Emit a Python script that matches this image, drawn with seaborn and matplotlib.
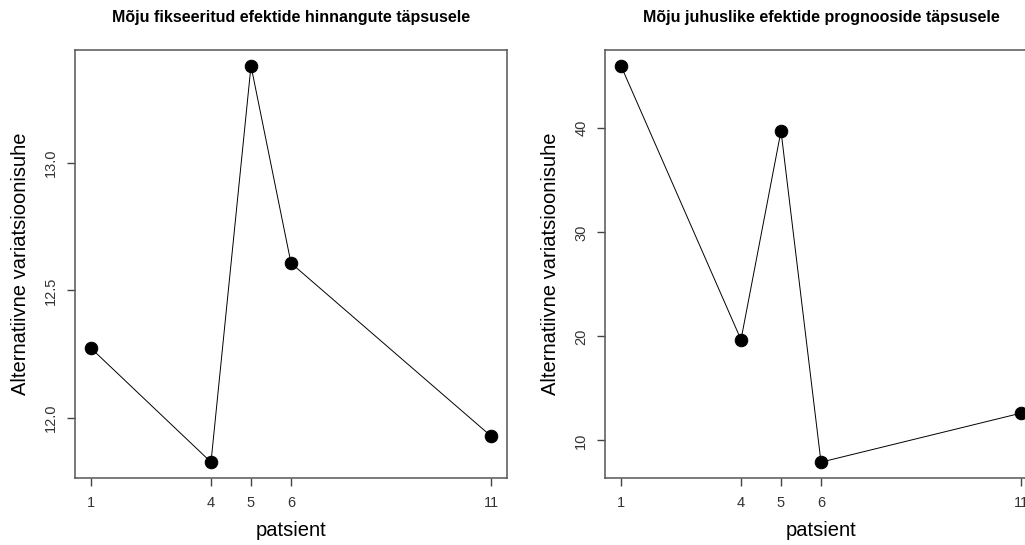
import matplotlib
matplotlib.use("Agg")
import matplotlib.pyplot as plt
import seaborn as sns
import pandas as pd

# patient ids and the two precision-impact measures
patients = [1, 4, 5, 6, 11]
fixed_effects = [12.274, 11.828, 13.379, 12.607, 11.930]
random_effects = [46.0, 19.68, 39.74, 7.91, 12.62]

titles = ["Mõju fikseeritud efektide hinnangute täpsusele",
          "Mõju juhuslike efektide prognooside täpsusele"]
x_label = "patsient"
y_label = "Alternatiivne variatsioonisuhe"
left_yticks = [12.0, 12.5, 13.0]
right_yticks = [10, 20, 30, 40]

sns.set_style("ticks")
plt.rcParams["font.family"] = ["Liberation Sans", "DejaVu Sans"]

fig = plt.figure(figsize=(10.25, 5.45), dpi=100)
ax1 = fig.add_axes([75 / 1025, 1 - 478 / 545, 432 / 1025, 428 / 545])
ax2 = fig.add_axes([605 / 1025, 1 - 478 / 545, 432 / 1025, 428 / 545])


def pad(lo, hi):
    d = (hi - lo) * 0.04
    return lo - d, hi + d


panels = [
    (ax1, fixed_effects, titles[0], left_yticks, ["12.0", "12.5", "13.0"]),
    (ax2, random_effects, titles[1], right_yticks, ["10", "20", "30", "40"]),
]

for ax, values, title, yt, ytl in panels:
    df = pd.DataFrame({"patsient": patients, "value": values})
    sns.lineplot(data=df, x="patsient", y="value", ax=ax, color="black",
                 linewidth=0.7, marker="o", markersize=9,
                 markeredgecolor="black", markerfacecolor="black")
    ax.set_xlim(*pad(min(patients), max(patients)))
    ax.set_ylim(*pad(min(values), max(values)))
    ax.set_xticks(patients)
    ax.set_xticklabels([str(p) for p in patients])
    ax.set_yticks(yt)
    ax.set_yticklabels(ytl, rotation=90, va="center")
    ax.tick_params(axis="both", which="major", direction="out", length=6,
                   width=1, color="#444444", labelsize=10.5,
                   labelcolor="#333333", pad=6, bottom=True, left=True,
                   top=False, right=False)
    ax.tick_params(axis="x", pad=7)
    for sp in ax.spines.values():
        sp.set_color("#555555")
        sp.set_linewidth(1.1)
        sp.set_visible(True)
    ax.set_xlabel(x_label, fontsize=14.5, labelpad=8, color="black")
    ax.set_ylabel(y_label, fontsize=14.5, labelpad=10, color="black")
    ax.set_title(title, fontsize=11.5, fontweight="bold", pad=20, color="black")

fig.savefig("out.png", dpi=100)
